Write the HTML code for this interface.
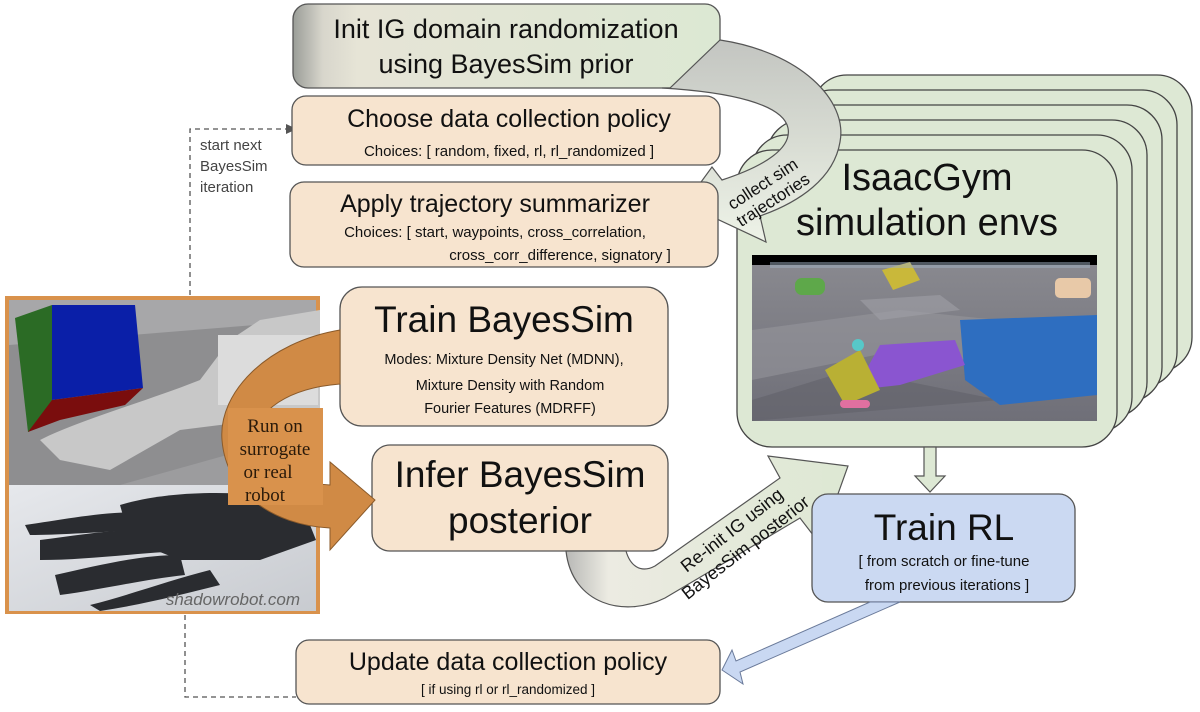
<!DOCTYPE html>
<html><head><meta charset="utf-8"><style>
html,body{margin:0;padding:0;background:#fff;width:1200px;height:712px;overflow:hidden}
svg{display:block}
text{font-family:"Liberation Sans",sans-serif;fill:#111}
</style></head><body>
<svg width="1200" height="712" viewBox="0 0 1200 712" xmlns="http://www.w3.org/2000/svg">
<defs>
<linearGradient id="gInit" x1="0" x2="1" y1="0" y2="0">
<stop offset="0" stop-color="#9a9d98"/><stop offset="0.07" stop-color="#d8d6cc"/><stop offset="0.15" stop-color="#e6e4d6"/><stop offset="1" stop-color="#dce8d3"/></linearGradient>
<linearGradient id="gArr" x1="0" x2="0" y1="0" y2="1">
<stop offset="0" stop-color="#c3c5c1"/><stop offset="0.5" stop-color="#d8dcd3"/><stop offset="1" stop-color="#eef3e8"/></linearGradient>
<linearGradient id="gRe" x1="0" x2="1" y1="0" y2="0">
<stop offset="0" stop-color="#b8b8b6"/><stop offset="0.15" stop-color="#ecebe2"/><stop offset="1" stop-color="#dde8d3"/></linearGradient>
<linearGradient id="gFloor" x1="0" x2="0" y1="0" y2="1">
<stop offset="0" stop-color="#8a8a90"/><stop offset="1" stop-color="#6f6f78"/></linearGradient>
<linearGradient id="gPhoto" x1="0" x2="1" y1="0" y2="1">
<stop offset="0" stop-color="#e6e8ec"/><stop offset="1" stop-color="#c8cbd0"/></linearGradient>
</defs>

<!-- dashed connectors -->
<path d="M190,295 V129 H288" fill="none" stroke="#555" stroke-width="1.3" stroke-dasharray="5,4"/>
<polygon points="297,129 286,124 286,134" fill="#555"/>
<text x="200" y="150" font-size="15" style="fill:#444">start next</text>
<text x="200" y="171" font-size="15" style="fill:#444">BayesSim</text>
<text x="200" y="192" font-size="15" style="fill:#444">iteration</text>
<path d="M185,615 V697 H296" fill="none" stroke="#555" stroke-width="1.3" stroke-dasharray="5,4"/>

<!-- IsaacGym stacked cards -->
<g stroke="#444" stroke-width="1.3" fill="#dde8d4">
<rect x="812" y="75" width="380" height="297" rx="35"/>
<rect x="797" y="90" width="380" height="297" rx="35"/>
<rect x="782" y="105" width="380" height="297" rx="35"/>
<rect x="767" y="120" width="380" height="297" rx="35"/>
<rect x="752" y="135" width="380" height="297" rx="35"/>
<rect x="737" y="150" width="380" height="297" rx="35"/>
</g>
<text x="927" y="190" font-size="38" text-anchor="middle">IsaacGym</text>
<text x="927" y="235" font-size="38" text-anchor="middle">simulation envs</text>
<!-- sim screenshot -->
<rect x="752" y="255" width="345" height="166" fill="url(#gFloor)"/>
<rect x="752" y="255" width="345" height="10" fill="#000"/>
<polygon points="752,330 900,310 1097,330 1097,380 900,350 752,380" fill="#9a9aa0" opacity="0.5"/>
<polygon points="752,400 850,370 1000,400 752,421" fill="#5e5e66" opacity="0.5"/>
<polygon points="860,300 940,295 960,310 880,320" fill="#a0a0a6" opacity="0.6"/>
<rect x="795" y="278" width="30" height="17" rx="7" fill="#5ea84a"/>
<polygon points="882,270 910,262 920,280 893,290" fill="#c9b83a"/>
<rect x="1055" y="278" width="36" height="20" rx="5" fill="#e8c9a8"/>
<rect x="770" y="262" width="320" height="6" fill="#9fb0c0" opacity="0.5"/>
<path d="M960,320 L1097,315 L1097,395 L1000,405 L965,380 Z" fill="#2e6ec0"/>
<path d="M880,345 L955,340 L965,365 L900,385 L855,390 Z" fill="#8a55d0"/>
<polygon points="825,370 860,350 880,390 845,405" fill="#b9b034"/>
<circle cx="858" cy="345" r="6" fill="#57c8c8"/>
<rect x="840" y="400" width="30" height="8" rx="4" fill="#e070a0"/>

<!-- Init IG box -->
<rect x="293" y="4" width="427" height="84" rx="15" fill="url(#gInit)" stroke="#555" stroke-width="1.3"/>
<text x="506" y="38" font-size="27" text-anchor="middle">Init IG domain randomization</text>
<text x="506" y="73" font-size="27" text-anchor="middle">using BayesSim prior</text>

<!-- collect sim trajectories arrow -->
<path d="M720,40 C800,52 848,100 840,142 C834,178 800,202 760,216 L766,242 L685,204 L712,167 L722,180 C765,166 792,148 788,128 C783,104 730,92 662,88 L670,88 Z" fill="url(#gArr)" stroke="#555" stroke-width="1.2"/>
<g transform="translate(768,192) rotate(-33)">
<text x="0" y="-4" font-size="17" text-anchor="middle">collect sim</text>
<text x="0" y="15" font-size="17" text-anchor="middle">trajectories</text>
</g>

<!-- Choose box -->
<rect x="292" y="96" width="428" height="69" rx="14" fill="#f7e4cf" stroke="#555" stroke-width="1.3"/>
<text x="509" y="127" font-size="25" text-anchor="middle">Choose data collection policy</text>
<text x="509" y="156" font-size="15" text-anchor="middle">Choices: [ random, fixed, rl, rl_randomized ]</text>

<!-- Apply box -->
<rect x="290" y="182" width="428" height="85" rx="14" fill="#f7e4cf" stroke="#555" stroke-width="1.3"/>
<text x="495" y="212" font-size="25" text-anchor="middle">Apply trajectory summarizer</text>
<text x="495" y="237" font-size="15" text-anchor="middle">Choices: [ start, waypoints, cross_correlation,</text>
<text x="560" y="260" font-size="15" text-anchor="middle">cross_corr_difference, signatory ]</text>

<!-- Train BayesSim -->
<rect x="340" y="287" width="328" height="139" rx="22" fill="#f7e4cf" stroke="#555" stroke-width="1.3"/>
<text x="504" y="332" font-size="37" text-anchor="middle">Train  BayesSim</text>
<text x="504" y="364" font-size="14.5" text-anchor="middle">Modes: Mixture Density Net (MDNN),</text>
<text x="510" y="390" font-size="14.5" text-anchor="middle">Mixture Density with Random</text>
<text x="510" y="413" font-size="14.5" text-anchor="middle">Fourier Features (MDRFF)</text>

<!-- Infer -->
<rect x="372" y="445" width="296" height="106" rx="18" fill="#f7e4cf" stroke="#555" stroke-width="1.3"/>
<text x="520" y="487" font-size="37" text-anchor="middle">Infer BayesSim</text>
<text x="520" y="533" font-size="37" text-anchor="middle">posterior</text>

<!-- Update -->
<rect x="296" y="640" width="424" height="64" rx="13" fill="#f7e4cf" stroke="#555" stroke-width="1.3"/>
<text x="508" y="670" font-size="25" text-anchor="middle">Update data collection policy</text>
<text x="508" y="694" font-size="13.5" text-anchor="middle">[ if using rl or rl_randomized ]</text>

<!-- Left photo -->
<rect x="5" y="296" width="315" height="318" fill="#d9924c"/>
<rect x="9" y="300" width="307" height="185" fill="#8e8e90"/>
<polygon points="9,300 316,300 316,320 9,345" fill="#a7a7a9"/>
<polygon points="120,485 316,430 316,485" fill="#9c9c9e"/>
<polygon points="15,318 52,305 52,420 28,432" fill="#2b6b25"/>
<polygon points="52,305 135,305 143,388 52,400" fill="#0a1fa8"/>
<polygon points="28,432 52,400 143,388 125,405 60,420" fill="#7a0d0d"/>
<path d="M40,440 C80,420 150,400 200,380 L230,340 L260,320 L320,310 L320,410 L260,420 L180,430 L110,470 L60,460 Z" fill="#c8c8c8"/>
<rect x="218" y="335" width="100" height="70" fill="#dcdcdc"/>
<rect x="9" y="485" width="307" height="126" fill="url(#gPhoto)"/>
<g fill="#2a2c30">
<path d="M120,505 C170,490 240,490 300,500 L316,540 L260,560 L180,560 L130,540 Z"/>
<path d="M25,525 C60,520 100,512 140,512 L140,530 C100,532 60,535 30,535 Z"/>
<path d="M40,540 C80,535 120,528 160,530 L165,552 C120,555 80,560 40,560 Z"/>
<path d="M55,575 C100,565 140,555 180,555 L185,575 C140,580 100,590 60,595 Z"/>
<path d="M90,605 C130,595 170,580 210,570 L220,585 C180,595 140,605 100,611 Z"/>
</g>
<text x="300" y="605" font-size="17" text-anchor="end" font-style="italic" style="fill:#666">shadowrobot.com</text>

<!-- orange arrow -->
<path d="M340,330 C268,342 218,392 222,440 C226,492 272,525 330,528 L330,550 L375,500 L330,462 L330,485 C290,482 258,468 256,440 C254,410 290,388 340,384 Z" fill="#d08a45" stroke="#8a5a2a" stroke-width="1"/>
<rect x="228" y="408" width="95" height="97" fill="#d9924c"/>
<text x="275" y="432" font-size="19" text-anchor="middle" style="font-family:'Liberation Serif',serif;fill:#2a1a0a">Run on</text>
<text x="275" y="455" font-size="19" text-anchor="middle" style="font-family:'Liberation Serif',serif;fill:#2a1a0a">surrogate</text>
<text x="268" y="478" font-size="19" text-anchor="middle" style="font-family:'Liberation Serif',serif;fill:#2a1a0a">or real</text>
<text x="265" y="501" font-size="19" text-anchor="middle" style="font-family:'Liberation Serif',serif;fill:#2a1a0a">robot</text>

<!-- Re-init arrow -->
<path d="M566,551 C572,605 625,618 665,598 L800,518 L820,544 L848,466 L768,456 L780,478 L655,566 C640,574 630,565 626,551 Z" fill="url(#gRe)" stroke="#555" stroke-width="1.2"/>
<g transform="translate(738,538) rotate(-38)">
<text x="0" y="-4" font-size="18" text-anchor="middle">Re-init IG using</text>
<text x="0" y="18" font-size="18" text-anchor="middle">BayesSim posterior</text>
</g>

<!-- down arrow -->
<polygon points="924,447 936,447 936,476 945,476 930,492 915,476 924,476" fill="#dde8d4" stroke="#555" stroke-width="1.2"/>

<!-- Train RL -->
<rect x="812" y="494" width="263" height="108" rx="16" fill="#cbd9f2" stroke="#555" stroke-width="1.3"/>
<text x="944" y="540" font-size="37" text-anchor="middle">Train  RL</text>
<text x="944" y="566" font-size="15" text-anchor="middle">[ from scratch or fine-tune</text>
<text x="947" y="590" font-size="15" text-anchor="middle">from previous iterations ]</text>

<!-- blue arrow -->
<polygon points="870,602 900,602 740,672 743,684 722,670 732,650 736,661" fill="#c9d8f2" stroke="#6a7a9a" stroke-width="1"/>
</svg>
</body></html>
